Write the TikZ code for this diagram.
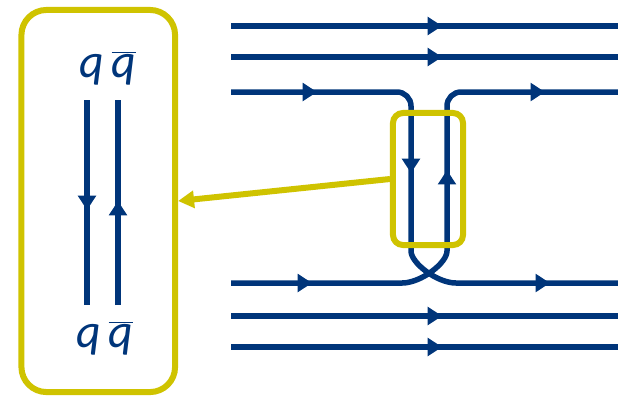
\documentclass[tikz,border=0pt]{standalone}
\usepackage{fontspec}
\setmainfont{Carlito}
\usetikzlibrary{arrows.meta,decorations.markings}
\definecolor{navy}{HTML}{00357A}
\definecolor{olive}{HTML}{CFC300}
\newcommand{\qbar}{$\overline{\mbox{\itshape q}}$}
\tikzset{
  flux/.style={navy,line width=1.375mm},
  mid/.style={postaction={decorate,decoration={markings,
      mark=at position #1 with {\arrow{Triangle[length=3.6mm,width=4.4mm]}}}}},
  frame/.style={draw=olive,line width=1.5mm,inner sep=0pt},
  quark/.style={text=navy,anchor=base,font=\fontsize{34}{40}\selectfont\itshape},
}
\begin{document}
\begin{tikzpicture}[x=0.025cm,y=-0.025cm]
  \useasboundingbox (0,0) rectangle (618,397);
  % zoomed view of the flipped pair
  \node[frame,rounded corners=6.25mm,minimum width=3.84cm,minimum height=9.55cm] (zoom) at (98.25,201) {};
  \node[quark] (qtop) at (108,77) {q\kern0.15em\qbar};
  \node[quark] (qbot) at (105,347) {q\kern0.15em\qbar};
  \draw[flux,mid=27.5mm] (87,100) -- (87,305);
  \draw[flux,mid=26mm] (118,305) -- (118,100);
  % straight flux lines, top and bottom
  \foreach \y in {26,57,316,347}{\draw[flux,mid=52.75mm] (231,\y) -- (618,\y);}
  % the two lines that swap partners
  \draw[flux,rounded corners=3.5mm,mid=21.5mm,mid=63.75mm,mid=-17mm]
    (231,92) -- (411,92) -- (411,237) .. controls (411,263) and (437,283) .. (470,283) -- (618,283);
  \draw[flux,rounded corners=3.5mm,mid=20.25mm,mid=-60.75mm,mid=-18.25mm]
    (231,283) -- (388,283) .. controls (421,283) and (447,263) .. (447,237) -- (447,92) -- (618,92);
  % window round the crossing and pointer to the zoom
  \node[frame,rounded corners=2.5mm,minimum width=1.75cm,minimum height=3.3cm] (window) at (428,179) {};
  \draw[olive,line width=1.5mm,-{Triangle[length=4mm,width=4.2mm]}] (window.west) -- (zoom.east);
\end{tikzpicture}
\end{document}
